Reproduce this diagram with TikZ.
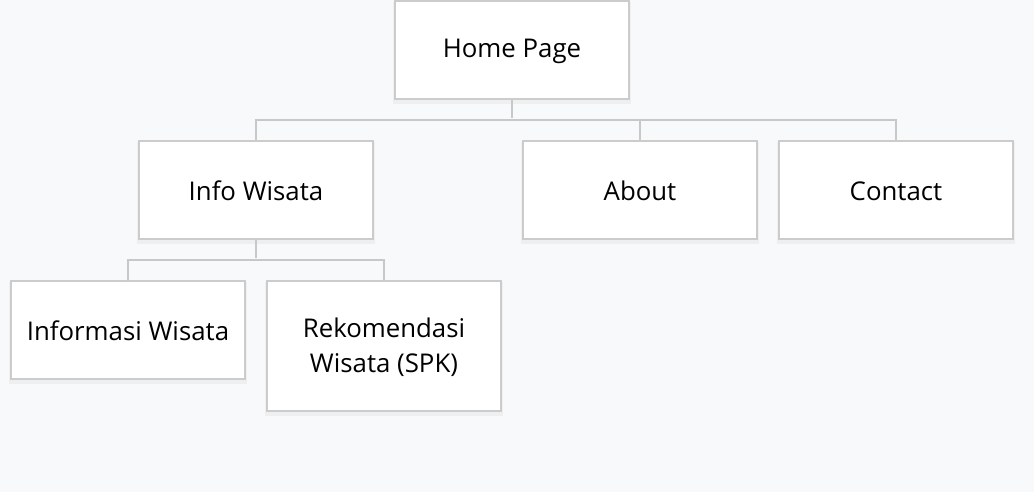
\documentclass[tikz,border=0pt]{standalone}
\usepackage{fontspec}
\setmainfont{Open Sans}
\definecolor{bg}{HTML}{F8F9FA}
\definecolor{bd}{HTML}{CCCCCC}
\definecolor{ln}{HTML}{C8C8C8}
\definecolor{sh}{HTML}{EEEFF0}
\begin{document}
\begin{tikzpicture}[x=1pt,y=-1pt,
  box/.style={draw=bd, line width=2pt, fill=white, rectangle, minimum width=234pt,
    minimum height=98pt, inner sep=0pt,
    preaction={draw=sh, line width=4pt, transform canvas={yshift=-3pt}}},
  txt/.style={font=\fontsize{25.8}{35}\selectfont, align=center, inner sep=0pt, yshift=-1pt},
  conn/.style={draw=ln, line width=2pt}]
\fill[bg] (0,0) rectangle (1034,492);
\useasboundingbox (0,0) rectangle (1034,492);
\node[box, label={[txt]center:Home Page}] (home) at (512,50) {};
\node[box, label={[txt]center:Info Wisata}] (info) at (256,190) {};
\node[box, label={[txt]center:About}] (about) at (640,190) {};
\node[box, label={[txt]center:Contact}] (contact) at (896,190) {};
\node[box, label={[txt]center:Informasi Wisata}] (inf) at (128,330) {};
\node[box, minimum height=130pt, label={[txt]center:{Rekomendasi\\Wisata (SPK)}}] (rek) at (384,346) {};
\coordinate (h1) at (512,118);
\coordinate (i1) at (256,258);
\draw[conn] (home.south) -- (h1);
\draw[conn] (info.north) -- ++(0,-20) -| (contact.north);
\draw[conn] (about.north) -- ++(0,-20);
\draw[conn] (info.south) -- (i1);
\draw[conn] (inf.north) -- ++(0,-20) -| (rek.north);
\end{tikzpicture}
\end{document}
